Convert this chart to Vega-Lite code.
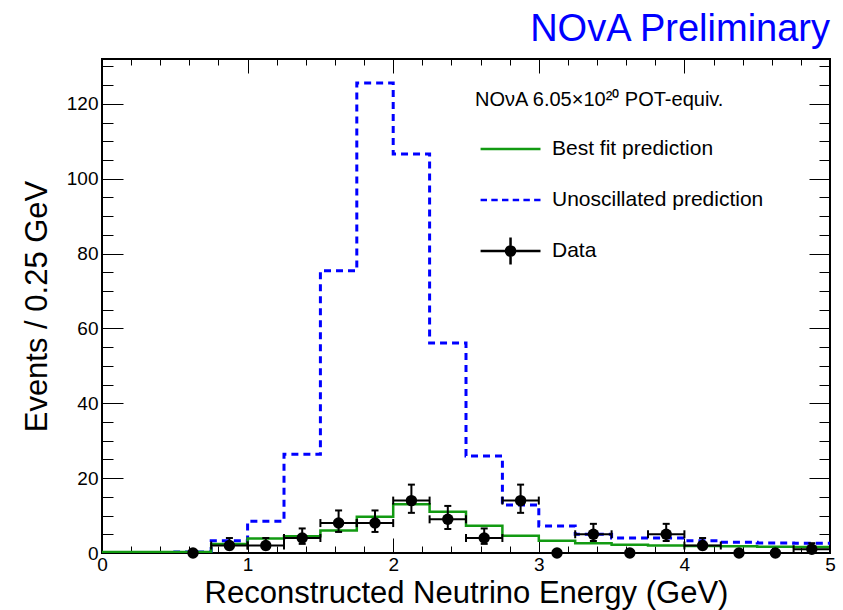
{
  "$schema": "https://vega.github.io/schema/vega-lite/v6.json",
  "width": 728,
  "height": 494,
  "autosize": "none",
  "padding": {"left": 102, "top": 59, "right": 13, "bottom": 57},
  "background": "white",
  "title": {"text": "NOvA Preliminary", "anchor": "end", "frame": "group", "color": "#0000ff", "fontSize": 38, "font": "Liberation Sans", "fontWeight": "normal", "baseline": "alphabetic", "offset": -20},
  "config": {
    "font": "Liberation Sans",
    "view": {"stroke": "black", "strokeWidth": 2},
    "axis": {"domain": false, "grid": false, "tickColor": "black", "tickWidth": 1, "labelColor": "black", "titleColor": "black", "labelFont": "Liberation Sans", "titleFont": "Liberation Sans", "titleFontWeight": "normal"}
  },
  "datasets": {
    "unosc": [
      {"e": 0, "n": 0.05}, {"e": 0.25, "n": 0.05}, {"e": 0.5, "n": 0.3}, {"e": 0.75, "n": 3.3},
      {"e": 1, "n": 8.5}, {"e": 1.25, "n": 26.4}, {"e": 1.5, "n": 75.4}, {"e": 1.75, "n": 125.6},
      {"e": 2, "n": 106.6}, {"e": 2.25, "n": 56.1}, {"e": 2.5, "n": 25.9}, {"e": 2.75, "n": 12.8},
      {"e": 3, "n": 7.2}, {"e": 3.25, "n": 5.0}, {"e": 3.5, "n": 4.0}, {"e": 3.75, "n": 4.0},
      {"e": 4, "n": 3.3}, {"e": 4.25, "n": 2.9}, {"e": 4.5, "n": 2.7}, {"e": 4.75, "n": 2.6}, {"e": 5, "n": 2.6}
    ],
    "bestfit": [
      {"e": 0, "n": 0.25}, {"e": 0.25, "n": 0.25}, {"e": 0.5, "n": 0.25}, {"e": 0.75, "n": 2.4},
      {"e": 1, "n": 3.9}, {"e": 1.25, "n": 4.5}, {"e": 1.5, "n": 6.0}, {"e": 1.75, "n": 9.7},
      {"e": 2, "n": 13.0}, {"e": 2.25, "n": 11.0}, {"e": 2.5, "n": 7.3}, {"e": 2.75, "n": 4.6},
      {"e": 3, "n": 3.3}, {"e": 3.25, "n": 2.6}, {"e": 3.5, "n": 2.2}, {"e": 3.75, "n": 2.0},
      {"e": 4, "n": 1.9}, {"e": 4.25, "n": 1.8}, {"e": 4.5, "n": 1.7}, {"e": 4.75, "n": 1.6}, {"e": 5, "n": 1.6}
    ],
    "obs": [
      {"e": 0.625, "n": 0, "lo": 0, "hi": 0, "xlo": 0.5, "xhi": 0.75},
      {"e": 0.875, "n": 2, "lo": 1.0, "hi": 4.0, "xlo": 0.75, "xhi": 1.0},
      {"e": 1.125, "n": 2, "lo": 1.0, "hi": 4.0, "xlo": 1.0, "xhi": 1.25},
      {"e": 1.375, "n": 4, "lo": 2.44, "hi": 6.56, "xlo": 1.25, "xhi": 1.5},
      {"e": 1.625, "n": 8, "lo": 5.63, "hi": 11.37, "xlo": 1.5, "xhi": 1.75},
      {"e": 1.875, "n": 8, "lo": 5.63, "hi": 11.37, "xlo": 1.75, "xhi": 2.0},
      {"e": 2.125, "n": 14, "lo": 10.73, "hi": 18.27, "xlo": 2.0, "xhi": 2.25},
      {"e": 2.375, "n": 9, "lo": 6.42, "hi": 12.58, "xlo": 2.25, "xhi": 2.5},
      {"e": 2.625, "n": 4, "lo": 2.44, "hi": 6.56, "xlo": 2.5, "xhi": 2.75},
      {"e": 2.875, "n": 14, "lo": 10.73, "hi": 18.27, "xlo": 2.75, "xhi": 3.0},
      {"e": 3.125, "n": 0, "lo": 0, "hi": 0, "xlo": 3.0, "xhi": 3.25},
      {"e": 3.375, "n": 5, "lo": 3.21, "hi": 7.79, "xlo": 3.25, "xhi": 3.5},
      {"e": 3.625, "n": 0, "lo": 0, "hi": 0, "xlo": 3.5, "xhi": 3.75},
      {"e": 3.875, "n": 5, "lo": 3.21, "hi": 7.79, "xlo": 3.75, "xhi": 4.0},
      {"e": 4.125, "n": 2, "lo": 1.0, "hi": 4.0, "xlo": 4.0, "xhi": 4.25},
      {"e": 4.375, "n": 0, "lo": 0, "hi": 0, "xlo": 4.25, "xhi": 4.5},
      {"e": 4.625, "n": 0, "lo": 0, "hi": 0, "xlo": 4.5, "xhi": 4.75},
      {"e": 4.875, "n": 1, "lo": 0.38, "hi": 2.62, "xlo": 4.75, "xhi": 5.0}
    ],
    "series": [
      {"series": "Best fit prediction"},
      {"series": "Unoscillated prediction"},
      {"series": "Data"}
    ]
  },
  "layer": [
    {
      "data": {"name": "unosc"},
      "mark": {"type": "line", "interpolate": "step-after", "color": "#0000ff", "strokeWidth": 3, "strokeDash": [7, 5], "clip": true},
      "encoding": {
        "x": {"field": "e", "type": "quantitative", "scale": {"domain": [0, 5], "nice": false, "zero": false},
          "axis": {"orient": "bottom", "values": [0, 1, 2, 3, 4, 5], "format": "d", "tickSize": -15, "labelPadding": 17, "labelFontSize": 19, "labelFlush": false,
            "title": "Reconstructed Neutrino Energy (GeV)", "titleFontSize": 31, "titleY": 49, "titleBaseline": "alphabetic"}},
        "y": {"field": "n", "type": "quantitative", "scale": {"domain": [0, 132], "nice": false},
          "axis": {"orient": "left", "values": [0, 20, 40, 60, 80, 100, 120], "format": "d", "tickSize": -21, "labelPadding": 25, "labelFontSize": 19,
            "title": "Events / 0.25 GeV", "titleFontSize": 31, "titleX": -56, "titleBaseline": "alphabetic"}}
      }
    },
    {
      "data": {"name": "bestfit"},
      "mark": {"type": "line", "interpolate": "step-after", "color": "#129a12", "strokeWidth": 2.5, "clip": true},
      "encoding": {
        "x": {"field": "e", "type": "quantitative",
          "axis": {"orient": "bottom", "values": [0.2, 0.4, 0.6, 0.8, 1.2, 1.4, 1.6, 1.8, 2.2, 2.4, 2.6, 2.8, 3.2, 3.4, 3.6, 3.8, 4.2, 4.4, 4.6, 4.8], "tickSize": -7, "labels": false, "title": null}},
        "y": {"field": "n", "type": "quantitative",
          "axis": {"orient": "left", "values": [5, 10, 15, 25, 30, 35, 45, 50, 55, 65, 70, 75, 85, 90, 95, 105, 110, 115, 125, 130], "tickSize": -11, "labels": false, "title": null}}
      }
    },
    {
      "data": {"name": "obs"},
      "transform": [{"filter": "datum.n > 0"}],
      "mark": {"type": "rule", "color": "black", "strokeWidth": 2},
      "encoding": {
        "x": {"field": "xlo", "type": "quantitative",
          "axis": {"orient": "top", "values": [0, 1, 2, 3, 4, 5], "tickSize": -14, "labels": false, "title": null}},
        "x2": {"field": "xhi"},
        "y": {"field": "n", "type": "quantitative",
          "axis": {"orient": "right", "values": [0, 20, 40, 60, 80, 100, 120], "tickSize": -21, "labels": false, "title": null}}
      }
    },
    {
      "data": {"name": "obs"},
      "transform": [{"filter": "datum.n > 0"}],
      "mark": {"type": "rule", "color": "black", "strokeWidth": 2},
      "encoding": {
        "x": {"field": "e", "type": "quantitative",
          "axis": {"orient": "top", "values": [0.2, 0.4, 0.6, 0.8, 1.2, 1.4, 1.6, 1.8, 2.2, 2.4, 2.6, 2.8, 3.2, 3.4, 3.6, 3.8, 4.2, 4.4, 4.6, 4.8], "tickSize": -6, "labels": false, "title": null}},
        "y": {"field": "lo", "type": "quantitative",
          "axis": {"orient": "right", "values": [5, 10, 15, 25, 30, 35, 45, 50, 55, 65, 70, 75, 85, 90, 95, 105, 110, 115, 125, 130], "tickSize": -11, "labels": false, "title": null}},
        "y2": {"field": "hi"}
      }
    },
    {
      "data": {"name": "obs"},
      "transform": [{"filter": "datum.n > 0"}],
      "mark": {"type": "tick", "orient": "vertical", "size": 8, "thickness": 2, "color": "black", "opacity": 1},
      "encoding": {
        "x": {"field": "xlo", "type": "quantitative", "axis": null},
        "y": {"field": "n", "type": "quantitative", "axis": null}
      }
    },
    {
      "data": {"name": "obs"},
      "transform": [{"filter": "datum.n > 0"}],
      "mark": {"type": "tick", "orient": "vertical", "size": 8, "thickness": 2, "color": "black", "opacity": 1},
      "encoding": {
        "x": {"field": "xhi", "type": "quantitative", "axis": null},
        "y": {"field": "n", "type": "quantitative", "axis": null}
      }
    },
    {
      "data": {"name": "obs"},
      "transform": [{"filter": "datum.n > 0"}],
      "mark": {"type": "tick", "orient": "horizontal", "size": 7, "thickness": 2, "color": "black", "opacity": 1},
      "encoding": {
        "x": {"field": "e", "type": "quantitative", "axis": null},
        "y": {"field": "lo", "type": "quantitative", "axis": null}
      }
    },
    {
      "data": {"name": "obs"},
      "transform": [{"filter": "datum.n > 0"}],
      "mark": {"type": "tick", "orient": "horizontal", "size": 7, "thickness": 2, "color": "black", "opacity": 1},
      "encoding": {
        "x": {"field": "e", "type": "quantitative", "axis": null},
        "y": {"field": "hi", "type": "quantitative", "axis": null}
      }
    },
    {
      "data": {"name": "obs"},
      "mark": {"type": "circle", "size": 130, "color": "black", "opacity": 1},
      "encoding": {
        "x": {"field": "e", "type": "quantitative", "axis": null},
        "y": {"field": "n", "type": "quantitative", "axis": null}
      }
    },
    {
      "data": {"name": "series"},
      "mark": {"type": "point", "filled": true, "opacity": 0},
      "encoding": {
        "shape": {"field": "series", "type": "nominal",
          "scale": {"domain": ["Best fit prediction", "Unoscillated prediction", "Data"],
            "range": ["M-0.84,0H1.51",
                      "M-0.84,0H-0.588M-0.42,0H-0.168M0,0H0.252M0.42,0H0.672M0.84,0H1.092M1.26,0H1.51",
                      "M-0.84,0H1.51M0.335,-0.53V0.53M0.515,0A0.18,0.18,0,1,1,0.155,0A0.18,0.18,0,1,1,0.515,0Z"]},
          "legend": {"orient": "none", "legendX": 373, "legendY": 31, "title": "NOνA 6.05×10²⁰ POT-equiv.", "titleFontSize": 20, "titleFontWeight": "normal", "titleColor": "black", "titlePadding": 12, "titleLimit": 500,
            "labelFontSize": 21, "labelColor": "black", "labelLimit": 500, "labelOffset": 23, "symbolSize": 2600, "symbolStrokeWidth": 2.5, "symbolOpacity": 1, "rowPadding": 14, "padding": 0}},
        "fill": {"field": "series", "type": "nominal",
          "scale": {"domain": ["Best fit prediction", "Unoscillated prediction", "Data"], "range": ["#129a12", "#0000ff", "#000000"]}},
        "stroke": {"field": "series", "type": "nominal",
          "scale": {"domain": ["Best fit prediction", "Unoscillated prediction", "Data"], "range": ["#129a12", "#0000ff", "#000000"]}}
      }
    }
  ],
  "resolve": {"axis": {"x": "independent", "y": "independent"}}
}
